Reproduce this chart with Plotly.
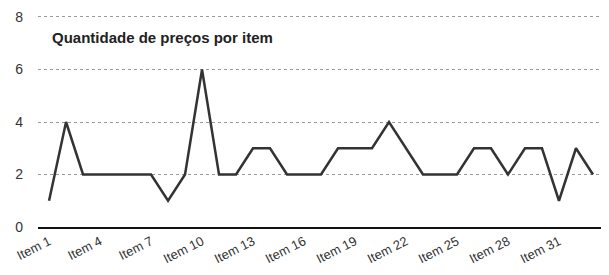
import plotly.graph_objects as go

items = [f"Item {i}" for i in range(1, 34)]
counts = [1, 4, 2, 2, 2, 2, 2, 1, 2, 6, 2, 2, 3, 3, 2, 2, 2, 3, 3, 3, 4, 3, 2, 2, 2, 3, 3, 2, 3, 3, 1, 3, 2]
tick_labels = [f"Item {i}" for i in range(1, 34, 3)]
y_ticks = [0, 2, 4, 6, 8]
title_text = "Quantidade de preços por item"

fig = go.Figure()
fig.add_trace(go.Scatter(
    x=items, y=counts, mode="lines",
    line=dict(color="#333333", width=2.5),
    hoverinfo="x+y",
))

fig.update_layout(
    width=601, height=267,
    margin=dict(l=30, r=6, t=5, b=48, autoexpand=False),
    paper_bgcolor="white", plot_bgcolor="white",
    showlegend=False,
    font=dict(family="Liberation Sans, Arial, sans-serif", color="#333333"),
    xaxis=dict(
        type="category",
        categoryorder="array", categoryarray=items,
        range=[-0.65, 32.59],
        tickmode="array", tickvals=tick_labels, ticktext=tick_labels,
        tickangle=-27,
        tickfont=dict(size=13, color="#333333"),
        showgrid=False,
        showline=True, linecolor="#111111", linewidth=2,
        ticks="", automargin=False,
    ),
    yaxis=dict(
        range=[0, 8.152],
        tickvals=y_ticks,
        tickfont=dict(size=14, color="#333333"),
        showgrid=True, gridcolor="#9a9a9a", griddash="dot", gridwidth=1,
        zeroline=False,
        ticks="", ticklabelstandoff=14, automargin=False,
    ),
    annotations=[dict(
        text=f"<b>{title_text}</b>",
        xref="paper", yref="paper",
        x=(50 - 38) / 565, y=(227 - 37) / 214,
        xanchor="left", yanchor="middle",
        showarrow=False,
        font=dict(size=15, color="#222222", family="Liberation Sans, Arial, sans-serif"),
    )],
)

fig.write_html("out.html")
